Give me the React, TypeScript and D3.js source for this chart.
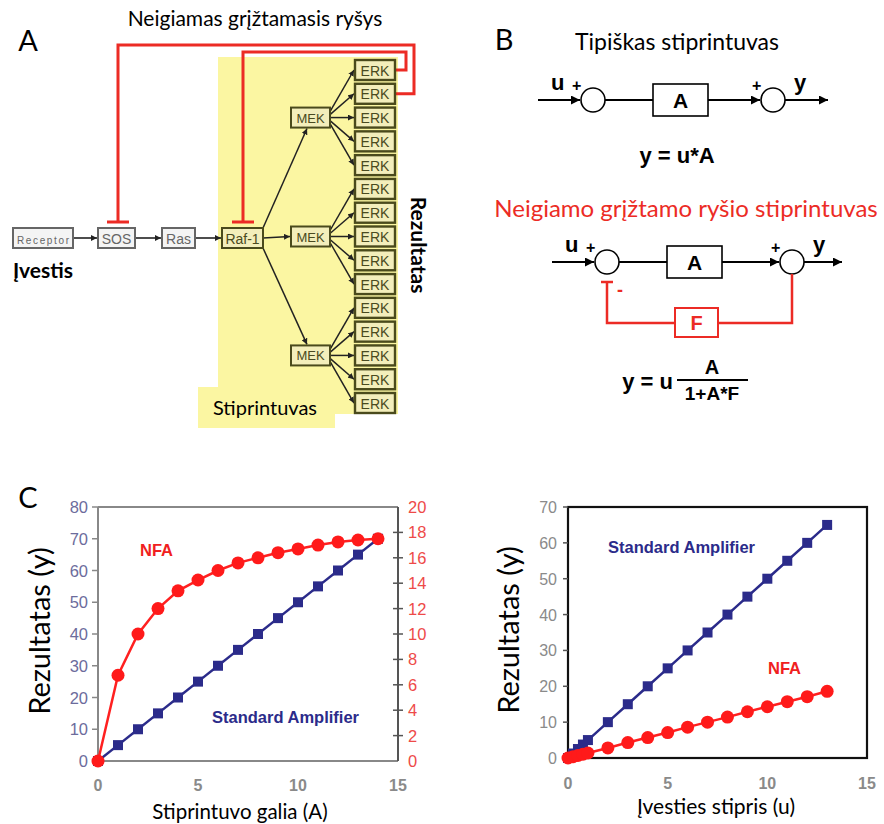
import React from 'react';
import * as d3 from 'd3';

// ---- data ----
const gainA = [0, 1, 2, 3, 4, 5, 6, 7, 8, 9, 10, 11, 12, 13, 14];
const stdByGain = [0, 5, 10, 15, 20, 25, 30, 35, 40, 45, 50, 55, 60, 65, 70];
// NFA on the right axis (0-20)
const nfaByGain = [0, 6.75, 10, 12, 13.4, 14.25, 15, 15.6, 16, 16.4, 16.7, 17, 17.25, 17.4, 17.5];

const inputU = [0, 0.25, 0.5, 0.75, 1, 2, 3, 4, 5, 6, 7, 8, 9, 10, 11, 12, 13];
const stdByInput = [0, 1.25, 2.5, 3.75, 5, 10, 15, 20, 25, 30, 35, 40, 45, 50, 55, 60, 65];
const nfaByInput = [0, 0.35, 0.7, 1.05, 1.4, 2.8, 4.3, 5.7, 7.1, 8.6, 10, 11.4, 12.9, 14.3, 15.7, 17.1, 18.6];

const leftTicks = [0, 10, 20, 30, 40, 50, 60, 70, 80];
const rightTicks = [0, 2, 4, 6, 8, 10, 12, 14, 16, 18, 20];
const xTicks = [0, 5, 10, 15];
const rightChartTicks = [0, 10, 20, 30, 40, 50, 60, 70];

const chainNodes = ['Receptor', 'SOS', 'Ras', 'Raf-1'];
const erkIds = d3.range(15).map(i => 'ERK' + i);
const mekRows = [2, 7, 12]; // ERK row each MEK sits next to

const RED = '#ec2b25';
const NAVY = '#2b2b8a';
const OLIVE = '#4a4a1c';
const CAL = 'Lato, "Open Sans", sans-serif';
const ARIAL = '"Liberation Sans", Arial, sans-serif';

const PanelA = () => {
  const erkY = d3.scalePoint().domain(erkIds).range([70, 403]);
  const chainX = d3.scaleOrdinal<string, [number, number]>()
    .domain(chainNodes)
    .range([[13, 73], [98, 135], [162, 195], [222, 263]]);
  const rowY = 238;
  const erkX0 = 355, erkX1 = 395;
  const mek = mekRows.map(r => erkY(erkIds[r]) as number);

  return (
    <g>
      <rect x={218} y={57} width={180} height={357} fill="#fbf6a2" />
      <rect x={198} y={387} width={137} height={41} fill="#fbf6a2" />
      <text x={28} y={51} fontSize={29} fontFamily={CAL} textAnchor="middle">A</text>
      <text x={255} y={26} fontSize={21} fontFamily={CAL} textAnchor="middle">Neigiamas grįžtamasis ryšys</text>

      {/* feedback lines */}
      <path d={`M${erkX1},${erkY('ERK1')} H414 V45 H118 V222`} fill="none" stroke={RED} strokeWidth={3} />
      <path d={`M${erkX1},${erkY('ERK0')} H406 V52 H243 V222`} fill="none" stroke={RED} strokeWidth={3} />
      <line x1={107} x2={129} y1={222} y2={222} stroke={RED} strokeWidth={3} />
      <line x1={232} x2={254} y1={222} y2={222} stroke={RED} strokeWidth={3} />

      {/* chain arrows */}
      {chainNodes.slice(1).map((n, i) => (
        <line key={n} x1={chainX(chainNodes[i])[1]} x2={chainX(n)[0] - 1} y1={rowY} y2={rowY}
          stroke="#222" strokeWidth={1.6} markerEnd="url(#arrA)" />
      ))}
      {/* Raf -> MEK */}
      <line x1={263} y1={228} x2={307} y2={mek[0] + 11} stroke="#222" strokeWidth={1.5} markerEnd="url(#arrA)" />
      <line x1={263} y1={rowY} x2={290} y2={mek[1]} stroke="#222" strokeWidth={1.6} markerEnd="url(#arrA)" />
      <line x1={263} y1={248} x2={307} y2={mek[2] - 11} stroke="#222" strokeWidth={1.5} markerEnd="url(#arrA)" />
      {/* MEK -> ERK */}
      {mekRows.map((r, mi) => d3.range(-2, 3).map(k => (
        <line key={mi + '-' + k} x1={330} y1={mek[mi] + k * 3} x2={erkX0 - 1} y2={erkY(erkIds[r + k]) as number}
          stroke="#222" strokeWidth={1.5} markerEnd="url(#arrA)" />
      )))}

      {/* chain boxes */}
      {chainNodes.map((n, i) => {
        const [a, b] = chainX(n);
        const olive = n === 'Raf-1';
        return (
          <g key={n}>
            <rect x={a} y={rowY - 10} width={b - a} height={20}
              fill={olive ? '#f3eebb' : '#f4f4f4'} stroke={olive ? OLIVE : '#666'} strokeWidth={2} />
            <text x={(a + b) / 2} y={rowY + 5.5} textAnchor="middle" fontFamily={ARIAL}
              fontSize={n === 'Receptor' ? 10 : 14} fill={olive ? '#4a4a20' : '#666'}
              textLength={n === 'Receptor' ? 52 : undefined}>{n}</text>
          </g>
        );
      })}
      {mek.map((y, i) => (
        <g key={'mek' + i}>
          <rect x={291} y={y - 10} width={39} height={20} fill="#f3eebb" stroke={OLIVE} strokeWidth={2} />
          <text x={310.5} y={y + 5} textAnchor="middle" fontFamily={ARIAL} fontSize={13} fill="#4a4a20">MEK</text>
        </g>
      ))}
      {erkIds.map(id => (
        <g key={id}>
          <rect x={erkX0} y={(erkY(id) as number) - 10} width={erkX1 - erkX0} height={20}
            fill="#f3eebb" stroke={OLIVE} strokeWidth={2.4} />
          <text x={(erkX0 + erkX1) / 2} y={(erkY(id) as number) + 5.5} textAnchor="middle"
            fontFamily={ARIAL} fontSize={14} fill="#4a4a20">ERK</text>
        </g>
      ))}

      <text x={13} y={278} fontSize={21} fontWeight="bold" fontFamily={CAL}>Įvestis</text>
      <text transform="translate(411,245) rotate(90)" fontSize={21} fontWeight="bold" fontFamily={CAL}
        textAnchor="middle">Rezultatas</text>
      <text x={265} y={415} fontSize={20} fontFamily={CAL} textAnchor="middle">Stiprintuvas</text>
    </g>
  );
};

const Loop = ({ y, x0, c1, bx0, bx1, c2, x1, feedback }: any) => (
  <g fontFamily={ARIAL} fontWeight="bold">
    <line x1={x0} x2={c1 - 13} y1={y} y2={y} stroke="#000" strokeWidth={2} markerEnd="url(#arrB)" />
    <text x={x0 + 13} y={y - 10} fontSize={22}>u</text>
    <text x={c1 - 21} y={y - 9} fontSize={16}>+</text>
    <circle cx={c1} cy={y} r={12} fill="#fff" stroke="#000" strokeWidth={1.6} />
    <line x1={c1 + 12} x2={bx0} y1={y} y2={y} stroke="#000" strokeWidth={2} />
    <rect x={bx0} y={y - 16} width={bx1 - bx0} height={32} fill="#fff" stroke="#000" strokeWidth={1.6} />
    <text x={(bx0 + bx1) / 2} y={y + 8} textAnchor="middle" fontSize={21}>A</text>
    <line x1={bx1} x2={c2 - 13} y1={y} y2={y} stroke="#000" strokeWidth={2} markerEnd="url(#arrB)" />
    <text x={c2 - 21} y={y - 9} fontSize={16}>+</text>
    <circle cx={c2} cy={y} r={12} fill="#fff" stroke="#000" strokeWidth={1.6} />
    <line x1={c2 + 12} x2={x1} y1={y} y2={y} stroke="#000" strokeWidth={2} markerEnd="url(#arrB)" />
    <text x={c2 + 21} y={y - 10} fontSize={22}>y</text>
    {feedback && (
      <g>
        <path d={`M${c2},${y + 12} V${y + 61} H718 M675,${y + 61} H${c1} V${y + 21}`} fill="none" stroke={RED} strokeWidth={2.5} />
        <line x1={c1 - 6} x2={c1 + 6} y1={y + 20} y2={y + 20} stroke={RED} strokeWidth={2.5} />
        <rect x={675} y={y + 46} width={43} height={29} fill="#fff" stroke={RED} strokeWidth={2} />
        <text x={696.5} y={y + 68} textAnchor="middle" fontSize={20} fill={RED}>F</text>
        <text x={c1 + 10} y={y + 34} fontSize={18} fill={RED}>-</text>
      </g>
    )}
  </g>
);

const PanelB = () => (
  <g>
    <text x={504} y={50} fontSize={29} fontFamily={CAL} textAnchor="middle">B</text>
    <text x={677} y={50} fontSize={23} fontFamily={CAL} textAnchor="middle">Tipiškas stiprintuvas</text>
    <Loop y={100} x0={538} c1={593} bx0={653} bx1={708} c2={773} x1={828} />
    <text x={677} y={163} fontSize={22} fontFamily={ARIAL} fontWeight="bold" textAnchor="middle">y = u*A</text>
    <text x={686} y={217} fontSize={24} fontFamily={CAL} textAnchor="middle" fill={RED}>Neigiamo grįžtamo ryšio stiprintuvas</text>
    <Loop y={262} x0={552} c1={607} bx0={667} bx1={722} c2={792} x1={842} feedback />
    <g fontFamily={ARIAL} fontWeight="bold">
      <text x={673} y={389} textAnchor="end" fontSize={22}>y = u</text>
      <line x1={677} x2={748} y1={380} y2={380} stroke="#000" strokeWidth={2} />
      <text x={712} y={374} textAnchor="middle" fontSize={20}>A</text>
      <text x={712} y={400} textAnchor="middle" fontSize={19}>1+A*F</text>
    </g>
  </g>
);

const LeftChart = () => {
  const x = d3.scaleLinear().domain([0, 15]).range([98, 398]);
  const yL = d3.scaleLinear().domain([0, 80]).range([761, 507]);
  const yR = d3.scaleLinear().domain([0, 20]).range([761, 507]);
  const std = d3.line<number>().x((d, i) => x(gainA[i])).y(d => yL(d));
  const nfa = d3.line<number>().x((d, i) => x(gainA[i])).y(d => yR(d));
  return (
    <g fontFamily={ARIAL}>
      <text x={28} y={508} fontSize={29} fontFamily={CAL} textAnchor="middle">C</text>
      <path d={`M98,507 H398 M98,507 V761 H398`} fill="none" stroke="#888" strokeWidth={2} />
      <line x1={398} x2={398} y1={507} y2={761} stroke="#555" strokeWidth={2} />
      {leftTicks.map(t => (
        <g key={t}>
          <line x1={92} x2={98} y1={yL(t)} y2={yL(t)} stroke="#888" strokeWidth={1.5} />
          <text x={88} y={yL(t) + 6} textAnchor="end" fontSize={16.5} fill="#6c6c9c">{t}</text>
        </g>
      ))}
      {rightTicks.map(t => (
        <g key={t}>
          {t > 0 && t < 20 && <line x1={393} x2={403} y1={yR(t)} y2={yR(t)} stroke="#555" strokeWidth={1.5} />}
          <text x={408} y={yR(t) + 6} fontSize={16.5} fill="#ee4a48">{t}</text>
        </g>
      ))}
      {xTicks.map(t => (
        <text key={t} x={x(t)} y={791} textAnchor="middle" fontSize={16} fontWeight="bold" fill="#8a8a8a">{t}</text>
      ))}
      <path d={std(stdByGain) || ''} fill="none" stroke={NAVY} strokeWidth={2.5} />
      {stdByGain.map((v, i) => (
        <rect key={i} x={x(gainA[i]) - 5} y={yL(v) - 5} width={10} height={10} fill={NAVY} />
      ))}
      <path d={nfa(nfaByGain) || ''} fill="none" stroke="#ff2020" strokeWidth={2.5} />
      {nfaByGain.map((v, i) => (
        <circle key={i} cx={x(gainA[i])} cy={yR(v)} r={6.5} fill="#ff1a1a" />
      ))}
      <text x={140} y={556} fontSize={16.5} fontWeight="bold" fill="#f02020">NFA</text>
      <text x={212} y={723} fontSize={16.5} fontWeight="bold" fill={NAVY}>Standard Amplifier</text>
      <text transform="translate(50,631) rotate(-90)" textAnchor="middle" fontSize={29} fontFamily={CAL}>Rezultatas (y)</text>
      <text x={240} y={819} textAnchor="middle" fontSize={20.5} fontFamily={CAL}>Stiprintuvo galia (A)</text>
    </g>
  );
};

const RightChart = () => {
  const x = d3.scaleLinear().domain([0, 15]).range([568, 867]);
  const y = d3.scaleLinear().domain([0, 70]).range([758, 507]);
  const std = d3.line<number>().x((d, i) => x(inputU[i])).y(d => y(d));
  const nfa = d3.line<number>().x((d, i) => x(inputU[i])).y(d => y(d));
  return (
    <g fontFamily={ARIAL}>
      <rect x={568} y={507} width={299} height={251} fill="none" stroke="#111" strokeWidth={2.2} />
      {rightChartTicks.map(t => (
        <g key={t}>
          <line x1={563} x2={568} y1={y(t)} y2={y(t)} stroke="#555" strokeWidth={1.5} />
          <text x={557} y={y(t) + 6} textAnchor="end" fontSize={16} fill="#8a8a8a">{t}</text>
        </g>
      ))}
      {xTicks.map(t => (
        <text key={t} x={x(t)} y={789} textAnchor="middle" fontSize={16} fontWeight="bold" fill="#8a8a8a">{t}</text>
      ))}
      <path d={std(stdByInput) || ''} fill="none" stroke={NAVY} strokeWidth={2.5} />
      {stdByInput.map((v, i) => (
        <rect key={i} x={x(inputU[i]) - 5} y={y(v) - 5} width={10} height={10} fill={NAVY} />
      ))}
      <path d={nfa(nfaByInput) || ''} fill="none" stroke="#ff2020" strokeWidth={2.5} />
      {nfaByInput.map((v, i) => (
        <circle key={i} cx={x(inputU[i])} cy={y(v)} r={6.5} fill="#ff1a1a" />
      ))}
      <text x={608} y={553} fontSize={16.5} fontWeight="bold" fill={NAVY}>Standard Amplifier</text>
      <text x={768} y={674} fontSize={16.5} fontWeight="bold" fill="#f02020">NFA</text>
      <text transform="translate(519,630) rotate(-90)" textAnchor="middle" fontSize={29} fontFamily={CAL}>Rezultatas (y)</text>
      <text x={716} y={814} textAnchor="middle" fontSize={21} fontFamily={CAL}>Įvesties stipris (u)</text>
    </g>
  );
};

export default function App() {
  return (
    <svg width={884} height={824} style={{ position: 'absolute', left: 0, top: 0, background: '#fff' }}>
      <defs>
        <marker id="arrA" viewBox="0 0 10 10" refX={10} refY={5} markerWidth={6} markerHeight={6}
          markerUnits="userSpaceOnUse" orient="auto">
          <path d="M0,0 L10,5 L0,10 z" fill="#222" />
        </marker>
        <marker id="arrB" viewBox="0 0 10 10" refX={10} refY={5} markerWidth={9} markerHeight={9}
          markerUnits="userSpaceOnUse" orient="auto">
          <path d="M0,0 L10,5 L0,10 z" fill="#000" />
        </marker>
      </defs>
      <rect width={884} height={824} fill="#fff" />
      <PanelA />
      <PanelB />
      <LeftChart />
      <RightChart />
    </svg>
  );
}
